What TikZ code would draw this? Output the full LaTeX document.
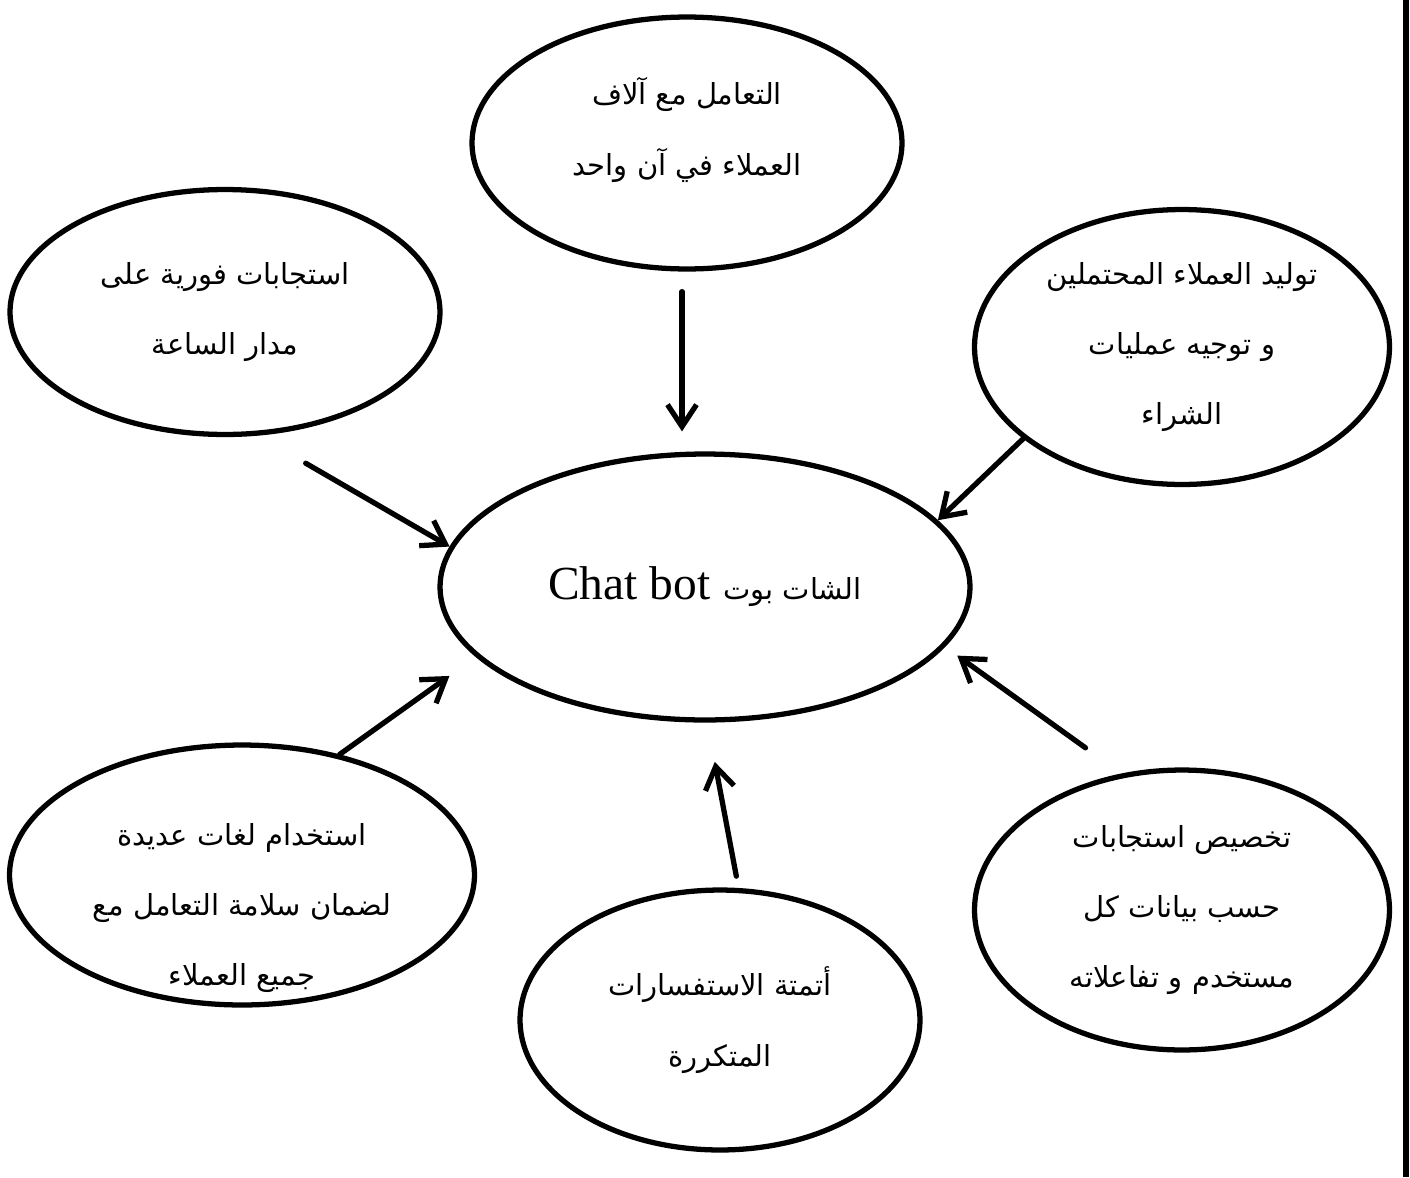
\documentclass[tikz,border=0pt]{standalone}
\usepackage{fontspec}
\setmainfont{Liberation Serif}
\newfontfamily\arabicfont[Script=Arabic]{DejaVu Sans}
\TeXXeTstate=1
\usetikzlibrary{shapes.geometric,arrows.meta}

\newcommand{\artext}[1]{{\arabicfont\beginR #1\endR}}

\begin{document}
\begin{tikzpicture}[x=0.02cm,y=-0.02cm,
    bubble/.style={ellipse,draw,line width=3pt,inner sep=0pt,align=center,
        font=\fontsize{16.5}{40}\selectfont},
    feed/.style={-{Straight Barb[length=0.44cm,width=0.58cm]},line width=3pt,line cap=round}]
\useasboundingbox (0,0) rectangle (1410,1177);

% centre
\node[bubble,minimum width=10.6cm,minimum height=5.32cm] (bot) at (705,587)
    {\beginR\artext{الشات بوت}\hspace{0.45em}{\fontsize{27}{34}\selectfont\beginL Chat bot\endL}\endR};

% around it
\node[bubble,minimum width=8.6cm,minimum height=5.04cm] (crowd) at (687,143) {};
\node[align=center,font=\fontsize{16.5}{40}\selectfont] (crowdtext) at (687,130)
    {\artext{التعامل مع آلاف}\\ \artext{العملاء في آن واحد}};
\node[bubble,minimum width=8.6cm,minimum height=4.9cm] (instant) at (225,312)
    {\artext{استجابات فورية على}\\ \artext{مدار الساعة}};
\node[bubble,minimum width=8.3cm,minimum height=5.5cm] (leads) at (1182,347)
    {\artext{توليد العملاء المحتملين}\\ \artext{و توجيه عمليات}\\ \artext{الشراء}};
\node[bubble,minimum width=9.3cm,minimum height=5.2cm] (lang) at (242,875) {};
\node[align=center,font=\fontsize{16.5}{40}\selectfont] (langtext) at (242,908)
    {\artext{استخدام لغات عديدة}\\ \artext{لضمان سلامة التعامل مع}\\ \artext{جميع العملاء}};
\node[bubble,minimum width=8.0cm,minimum height=5.2cm] (auto) at (720,1020)
    {\artext{أتمتة الاستفسارات}\\ \artext{المتكررة}};
\node[bubble,minimum width=8.3cm,minimum height=5.6cm] (custom) at (1182,910)
    {\artext{تخصيص استجابات}\\ \artext{حسب بيانات كل}\\ \artext{مستخدم و تفاعلاته}};

% arrows into the centre
\draw[feed,shorten <=0.4cm,shorten >=0.4cm] ([xshift=-0.1cm]crowd.south) -- ([xshift=-0.1cm]crowd.south |- bot.north);
\draw[feed,shorten <=1.1cm] (instant.285) -- (bot.171);
\draw[feed] (leads.210) -- (bot.16);
\draw[feed,shorten >=0.65cm] (lang.51) -- (bot.197);
\draw[feed,shorten <=0.24cm,shorten >=0.8cm] (auto.82) -- (bot.271);
\draw[feed,shorten <=0.88cm,shorten >=0.3cm] (custom.114) -- (bot.346);

% page rule
\draw[line width=3.4pt] (1406,0) -- (1406,1177);
\end{tikzpicture}
\end{document}
